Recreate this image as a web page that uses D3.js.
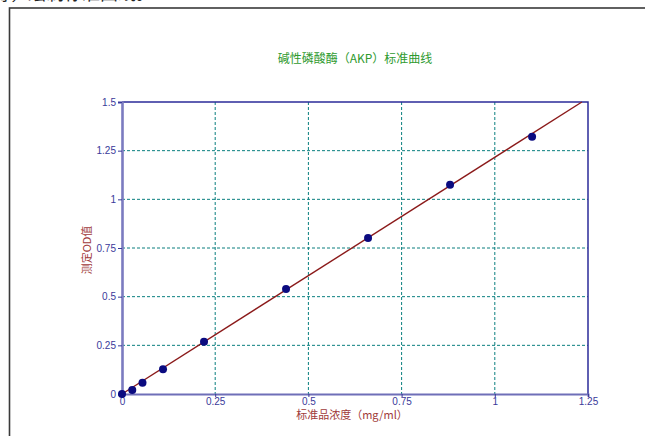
<!DOCTYPE html>
<html>
<head>
<meta charset="utf-8">
<script src="https://cdn.jsdelivr.net/npm/d3@7"></script>
<style>
  body { margin: 0; background: #fff; }
  svg { display: block; font-family: "Liberation Sans", Arial, sans-serif; }
  .tick text { fill: #3a3a9a; font-size: 10px; }
  .cjk { font-family: "Noto Sans CJK SC", "Liberation Sans", sans-serif; }
</style>
</head>
<body>
<div id="chart"></div>
<script>
// concentration (mg/ml) and measured OD values
const concentrations = [0, 0.0275, 0.055, 0.11, 0.22, 0.44, 0.66, 0.88, 1.1];
const odValues = [0, 0.021, 0.058, 0.127, 0.269, 0.54, 0.802, 1.075, 1.322];
const xTicks = [0, 0.25, 0.5, 0.75, 1, 1.25];
const yTicks = [0, 0.25, 0.5, 0.75, 1, 1.25, 1.5];
const fitSlope = 1.216;
const fitIntercept = 0.0;

const chartSettings = {
  width: 645,
  height: 436,
  left: 122,
  right: 588,
  top: 102,
  bottom: 394,
};

const svg = d3.select('#chart').append('svg')
  .attr('width', chartSettings.width)
  .attr('height', chartSettings.height);

// leftover text from the page above and the frame around the chart
svg.append('text').attr('class', 'cjk')
  .attr('x', -8).attr('y', 0)
  .attr('font-size', 18).attr('fill', '#222')
  .text('得，绘制标准曲线。');

svg.append('rect')
  .attr('x', 9.5).attr('y', 8)
  .attr('width', 700).attr('height', 500)
  .attr('fill', 'none').attr('stroke', '#3a3a3a').attr('stroke-width', 1.6);

const x = d3.scaleLinear().domain([0, 1.25]).range([chartSettings.left, chartSettings.right]);
const y = d3.scaleLinear().domain([0, 1.5]).range([chartSettings.bottom, chartSettings.top]);

// grid
const grid = svg.append('g').attr('class', 'grid');
grid.selectAll('line.gx').data(xTicks.slice(1, -1)).join('line')
  .attr('x1', d => x(d)).attr('x2', d => x(d))
  .attr('y1', y(1.5)).attr('y2', y(0))
  .attr('stroke', '#0a7f7f').attr('stroke-dasharray', '3,2');
grid.selectAll('line.gy').data(yTicks.slice(1, -1)).join('line')
  .attr('y1', d => y(d)).attr('y2', d => y(d))
  .attr('x1', x(0)).attr('x2', x(1.25))
  .attr('stroke', '#0a7f7f').attr('stroke-dasharray', '3,2');

// top / right border
svg.append('path')
  .attr('d', `M${x(0)},${y(1.5)}H${x(1.25)}V${y(0)}`)
  .attr('fill', 'none').attr('stroke', '#2b2b99').attr('stroke-width', 1.5);

// axes
const fmt = d => String(d);
const xAxis = svg.append('g')
  .attr('transform', `translate(0,${y(0)})`)
  .call(d3.axisBottom(x).tickValues(xTicks).tickFormat(fmt).tickSize(3).tickPadding(1));
const yAxis = svg.append('g')
  .attr('transform', `translate(${x(0)},0)`)
  .call(d3.axisLeft(y).tickValues(yTicks).tickFormat(fmt).tickSize(4).tickPadding(2));

xAxis.select('.domain').attr('stroke', '#6f6fb8').attr('stroke-width', 2);
yAxis.select('.domain').attr('stroke', '#7b7bc0').attr('stroke-width', 2.6);
xAxis.selectAll('.tick line').attr('stroke', '#3a3a9a');
yAxis.selectAll('.tick line').attr('stroke', '#3a3a9a');

// fitted line
const xEnd = (1.5 - fitIntercept) / fitSlope;
svg.append('line')
  .attr('x1', x(0)).attr('y1', y(fitIntercept))
  .attr('x2', x(xEnd)).attr('y2', y(1.5))
  .attr('stroke', '#8b1a1a').attr('stroke-width', 1.4);

// data points
svg.append('g').selectAll('circle')
  .data(concentrations.map((c, i) => [c, odValues[i]]))
  .join('circle')
  .attr('cx', d => x(d[0])).attr('cy', d => y(d[1]))
  .attr('r', 4).attr('fill', '#0b0b80');

// titles
svg.append('text').attr('class', 'cjk')
  .attr('x', 355).attr('y', 63).attr('text-anchor', 'middle')
  .attr('font-size', 12).attr('fill', '#2e9a2e')
  .text('碱性磷酸酶（AKP）标准曲线');

svg.append('text').attr('class', 'cjk')
  .attr('x', 352).attr('y', 419).attr('text-anchor', 'middle')
  .attr('font-size', 11).attr('fill', '#a03a3a')
  .text('标准品浓度（mg/ml）');

svg.append('text').attr('class', 'cjk')
  .attr('transform', 'translate(91,250) rotate(-90)')
  .attr('text-anchor', 'middle')
  .attr('font-size', 11).attr('fill', '#a03a3a')
  .text('测定OD值');
</script>
</body>
</html>
